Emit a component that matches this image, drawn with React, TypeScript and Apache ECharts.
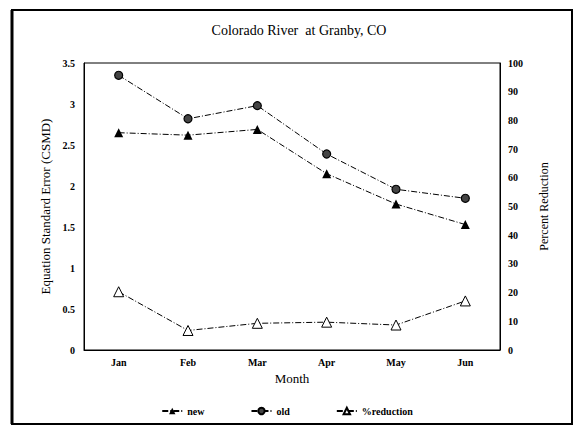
import React, { useEffect, useRef } from "react";
import * as echarts from "echarts";

const months = ["Jan", "Feb", "Mar", "Apr", "May", "Jun"];
const newValues = [2.65, 2.62, 2.69, 2.15, 1.78, 1.53];
const oldValues = [3.35, 2.82, 2.98, 2.39, 1.96, 1.85];
const pctReduction = [20.3, 6.8, 9.3, 9.7, 8.7, 17.1];

const FONT = "'Liberation Serif', 'Times New Roman', serif";
const DASH = [6, 2, 1, 2];

export default function App() {
  const ref = useRef<HTMLDivElement>(null);
  useEffect(() => {
    if (!ref.current) return;
    const chart = echarts.init(ref.current, undefined, { renderer: "svg" });
    const labelStyle = { fontFamily: FONT, fontSize: 10, fontWeight: "bold" as const, color: "#000" };
    chart.setOption({
      animation: false,
      backgroundColor: "#fff",
      textStyle: { fontFamily: FONT, color: "#000" },
      title: {
        text: "Colorado River  at Granby, CO",
        left: 294,
        textAlign: "center",
        top: 18,
        textStyle: { fontFamily: FONT, fontSize: 14, fontWeight: "normal", color: "#000" },
      },
      graphic: [
        {
          type: "rect",
          shape: { x: 12, y: 10, width: 560, height: 414 },
          style: { fill: "none", stroke: "#000", lineWidth: 2 },
          silent: true,
        },
        {
          type: "line",
          shape: { x1: 12, y1: 10, x2: 12, y2: 424 },
          style: { stroke: "#000", lineWidth: 3 },
          silent: true,
        },
      ],
      legend: {
        left: "center",
        top: 401,
        itemGap: 46,
        itemWidth: 20,
        itemHeight: 8,
        textStyle: { fontFamily: FONT, fontSize: 10, fontWeight: "bold", color: "#000" },
        data: ["new", "old", "%reduction"],
      },
      grid: {
        left: 84,
        right: 74,
        top: 63,
        bottom: 76,
        show: true,
        borderColor: "#000",
        borderWidth: 1,
      },
      xAxis: {
        type: "category",
        data: months,
        boundaryGap: true,
        name: "Month",
        nameLocation: "middle",
        nameGap: 22,
        nameTextStyle: { fontFamily: FONT, fontSize: 13, color: "#000" },
        axisLine: { lineStyle: { color: "#000" } },
        axisTick: { show: false },
        axisLabel: { ...labelStyle, margin: 7 },
        splitLine: { show: false },
      },
      yAxis: [
        {
          type: "value",
          min: 0,
          max: 3.5,
          interval: 0.5,
          name: "Equation Standard Error (CSMD)",
          nameLocation: "middle",
          nameGap: 32,
          nameTextStyle: { fontFamily: FONT, fontSize: 13, color: "#000" },
          axisLine: { show: true, lineStyle: { color: "#000" } },
          axisTick: { show: false },
          axisLabel: { ...labelStyle, margin: 9 },
          splitLine: { show: false },
        },
        {
          type: "value",
          min: 0,
          max: 100,
          interval: 10,
          name: "Percent Reduction",
          nameLocation: "middle",
          nameGap: 38,
          nameRotate: 90,
          nameTextStyle: { fontFamily: FONT, fontSize: 12, color: "#000" },
          axisLine: { show: true, lineStyle: { color: "#000" } },
          axisTick: { show: false },
          axisLabel: { ...labelStyle, margin: 8 },
          splitLine: { show: false },
        },
      ],
      series: [
        {
          name: "new",
          type: "line",
          data: newValues,
          yAxisIndex: 0,
          symbol: "triangle",
          symbolSize: 9,
          itemStyle: { color: "#000" },
          lineStyle: { color: "#000", width: 1, type: DASH },
        },
        {
          name: "old",
          type: "line",
          data: oldValues,
          yAxisIndex: 0,
          symbol: "circle",
          symbolSize: 8,
          itemStyle: { color: "#444", borderColor: "#000", borderWidth: 1.2 },
          lineStyle: { color: "#000", width: 1, type: DASH },
        },
        {
          name: "%reduction",
          type: "line",
          data: pctReduction,
          yAxisIndex: 1,
          symbol: "triangle",
          symbolSize: 10,
          itemStyle: { color: "#fff", borderColor: "#000", borderWidth: 1 },
          lineStyle: { color: "#000", width: 1, type: DASH },
        },
      ],
    });
    return () => chart.dispose();
  }, []);
  return <div ref={ref} style={{ width: 574, height: 426, position: "absolute", left: 0, top: 0 }} />;
}
